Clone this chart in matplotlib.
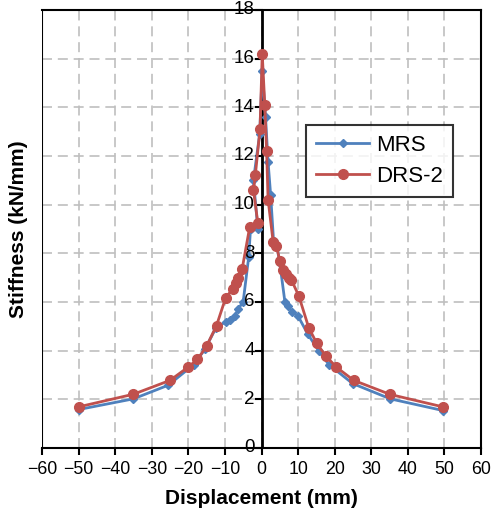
import matplotlib
matplotlib.use("Agg")
import matplotlib.pyplot as plt

plt.rcParams['font.family'] = ['Liberation Sans', 'DejaVu Sans']

mrs_x = [-50, -35, -25.5, -18.5, -15.5, -12.4, -9.8, -8.6, -7.3, -6.4, -5.0, -3.5, -3.0, -1.0,
         -2.2, -0.5, 0.2, 1.1, 1.8, 2.5, 3.3, 4.2, 5.0, 6.4, 7.3, 8.3, 10.0, 12.7, 15.7, 18.4,
         24.9, 35.2, 49.6]
mrs_y = [1.58, 2.02, 2.58, 3.43, 4.05, 4.95, 5.18, 5.28, 5.43, 5.70, 6.02, 7.85, 9.0, 9.0,
         11.0, 12.9, 15.5, 13.6, 11.75, 10.4, 8.5, 8.3, 7.6, 6.0, 5.84, 5.6, 5.42, 4.67, 3.98, 3.43,
         2.65, 2.02, 1.54]

drs_x = [-50, -35, -25, -20, -17.5, -15, -12.3, -9.8, -7.8, -7.0, -6.4, -5.3, -3.2, -1.0,
         -2.2, -1.7, -0.4, 0.2, 0.9, 1.4, 1.8, 3.2, 4.1, 5.0, 5.9, 6.7, 7.5, 8.2, 10.2, 12.9,
         15.1, 17.5, 20.4, 25.2, 35.2, 49.6]
drs_y = [1.69, 2.21, 2.78, 3.33, 3.64, 4.19, 5.03, 6.17, 6.55, 6.80, 7.00, 7.35, 9.10, 9.25,
         10.6, 11.2, 13.1, 16.2, 14.1, 12.2, 10.2, 8.45, 8.30, 7.70, 7.30, 7.15, 7.00, 6.90, 6.25, 4.95,
         4.30, 3.80, 3.33, 2.78, 2.20, 1.69]

x_ticks = list(range(-60, 61, 10))
y_ticks = list(range(0, 19, 2))

W, H = 491, 515
L, R, T, B = 42, 481, 10, 448

fig = plt.figure(figsize=(W / 100, H / 100), dpi=100)
ax = fig.add_axes([L / W, 1 - B / H, (R - L) / W, (B - T) / H])

ax.plot(mrs_x, mrs_y, color='#4F81BD', lw=2, marker='D', ms=4, label='MRS', zorder=3)
ax.plot(drs_x, drs_y, color='#C0504D', lw=2, marker='o', ms=7, label='DRS-2', zorder=4)

ax.set_xlim(-60, 60)
ax.set_ylim(0, 18)
ax.set_xticks(x_ticks)
ax.set_yticks(y_ticks)
ax.grid(True, color='#BFBFBF', ls=(0, (6, 3.5)), lw=1.2)
ax.set_axisbelow(True)

for s in ['top', 'right', 'bottom']:
    ax.spines[s].set_color('black')
    ax.spines[s].set_linewidth(1.5)
ax.spines['left'].set_visible(False)
ax.axvline(-60, color='black', lw=1.5, zorder=2)
ax.axvline(0, color='black', lw=2, zorder=2)

# y ticks drawn on centre axis
ax.tick_params(axis='y', left=False, labelleft=False)
for yv in y_ticks:
    ax.plot([-1.5, 0], [yv, yv], color='black', lw=1.5, clip_on=False, zorder=2)
    ax.text(-1.9, yv, str(yv), ha='right', va='center', fontsize=13.5)

ax.tick_params(axis='x', direction='out', length=5, width=1.5, labelsize=12.8, pad=4)

ax.set_xlabel('Displacement (mm)', fontsize=15, fontweight='bold', labelpad=8)
ax.set_ylabel('Stiffness (kN/mm)', fontsize=15, fontweight='bold', labelpad=10)

leg = ax.legend(loc='upper left',
                bbox_to_anchor=((306 - L) / (R - L), 1 - (125 - T) / (B - T)),
                borderaxespad=0, fontsize=16, frameon=True, fancybox=False,
                edgecolor='black', handlelength=2.4, handletextpad=0.3,
                borderpad=0.45, labelspacing=0.45)
leg.get_frame().set_linewidth(1.5)

fig.savefig('out.png', dpi=100)
